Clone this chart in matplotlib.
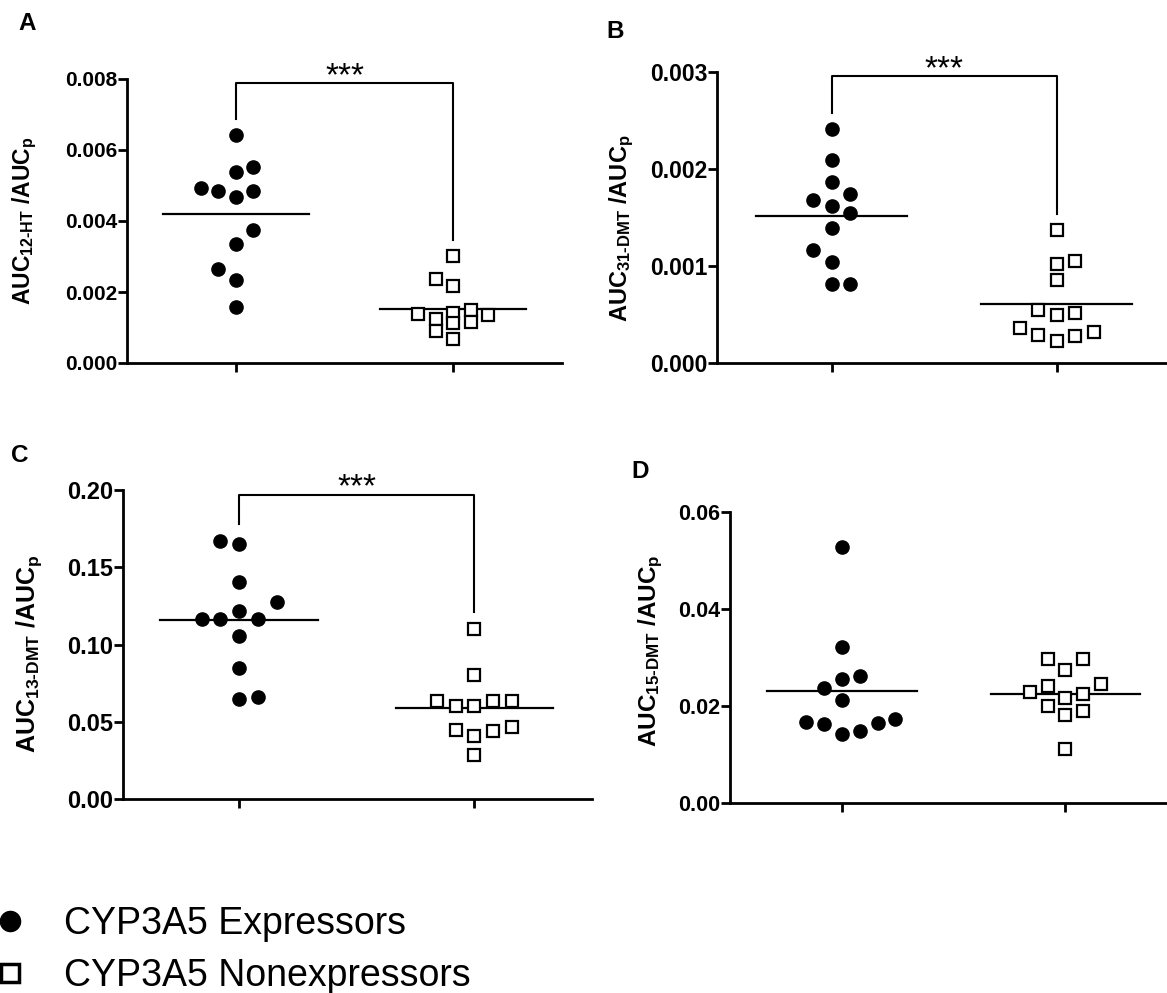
import numpy as np
import matplotlib
matplotlib.use('Agg')
import matplotlib.pyplot as plt
from matplotlib.lines import Line2D

plt.rcParams['font.family'] = ['Liberation Sans', 'DejaVu Sans']
plt.rcParams['mathtext.fontset'] = 'custom'
plt.rcParams['mathtext.rm'] = 'Liberation Sans'
plt.rcParams['mathtext.bf'] = 'Liberation Sans:bold'
plt.rcParams['mathtext.it'] = 'Liberation Sans:italic'

groups = ['CYP3A5 Expressors', 'CYP3A5 Nonexpressors']

# A: AUC 12-HT / AUC parent
a_expr = [0.00642, 0.00551, 0.00538, 0.00492, 0.00485, 0.00485,
          0.00468, 0.00375, 0.00334, 0.00266, 0.00233, 0.00157]
a_nonexpr = [0.00302, 0.00236, 0.00218, 0.00149, 0.00142, 0.00138,
             0.00135, 0.00125, 0.00116, 0.00112, 0.00091, 0.00068]
# B: AUC 31-DMT / AUC parent
b_expr = [0.002416, 0.002097, 0.001863, 0.001746, 0.001684, 0.001622,
          0.001546, 0.001389, 0.001162, 0.001041, 0.000818, 0.000818]
b_nonexpr = [0.001375, 0.001052, 0.001025, 0.000860, 0.000550, 0.000515,
             0.000492, 0.000365, 0.000324, 0.000293, 0.000282, 0.000224]
# C: AUC 13-DMT / AUC parent
c_expr = [0.1672, 0.1651, 0.1405, 0.1276, 0.1218, 0.1164,
          0.1164, 0.1164, 0.1056, 0.0847, 0.0663, 0.0647]
c_nonexpr = [0.1099, 0.0804, 0.0636, 0.0636, 0.0636, 0.0603,
             0.0603, 0.0466, 0.0444, 0.0437, 0.0411, 0.0286]
# D: AUC 15-DMT / AUC parent
d_expr = [0.0527, 0.0321, 0.0262, 0.0256, 0.0238, 0.0212,
          0.0173, 0.0167, 0.0165, 0.0163, 0.0149, 0.0142]
d_nonexpr = [0.0297, 0.0297, 0.0274, 0.0245, 0.0241, 0.0229,
             0.0225, 0.0216, 0.0200, 0.0190, 0.0181, 0.0112]

letters = ['A', 'B', 'C', 'D']
metabolites = ['12\u2010HT', '31\u2010DMT', '13\u2010DMT', '15\u2010DMT']
yticks = [[0, 0.002, 0.004, 0.006, 0.008],
          [0, 0.001, 0.002, 0.003],
          [0, 0.05, 0.10, 0.15, 0.20],
          [0, 0.02, 0.04, 0.06]]
ytick_labels = [['0.000', '0.002', '0.004', '0.006', '0.008'],
                ['0.000', '0.001', '0.002', '0.003'],
                ['0.00', '0.05', '0.10', '0.15', '0.20'],
                ['0.00', '0.02', '0.04', '0.06']]
stars = ['***', '***', '***', '']

# layout (figure pixels 1167 x 993)
W, H = 1167, 993
axes_px = [(127, 79, 562, 363), (717, 72, 1167, 363),
           (123, 490, 592, 799), (730, 512, 1167, 803)]
xlims = [(0.5, 2.5), (0.491, 2.49), (0.506, 2.5), (0.498, 2.455)]
tick_fs = [15, 16.5, 17, 15.5]
label_fs = [16.5, 17, 18, 17.5]
label_x = [-0.202, -0.181, -0.168, -0.149]
label_y = [0.5, 0.463, 0.471, 0.524]
letter_pos = [(27, 23), (615, 31), (20, 456), (640, 472)]
col_px = [17.5, 18.5, 18.7, 17.8]
gap_px = [(16, 10), (16, 16), (18, 16), (16, 16)]
first_side = [-1, 1, 1, 1]


def swarm(ax, vals, center, side, col, gap):
    # column scatter: place lowest values first, bump sideways when too close
    vals = np.asarray(vals)
    pts = np.column_stack([np.full(len(vals), center), vals])
    ypix = ax.transData.transform(pts)[:, 1]
    cols = {}
    xs = np.zeros(len(vals))
    for i in np.argsort(vals, kind='stable'):
        cands = [0]
        for k in range(1, 8):
            cands += [side * k, -side * k]
        for c in cands:
            if all(abs(ypix[i] - ypix[j]) >= gap for j in cols.get(c, [])):
                break
        cols.setdefault(c, []).append(i)
        if c != 0:
            side = -side
        xs[i] = c
    ppu = ax.transData.transform([(1, 0)])[0][0] - ax.transData.transform([(0, 0)])[0][0]
    return center + xs * col / ppu


fig = plt.figure(figsize=(W / 100, H / 100), dpi=100)

data = [(a_expr, a_nonexpr), (b_expr, b_nonexpr), (c_expr, c_nonexpr), (d_expr, d_nonexpr)]

for p in range(4):
    l, t, r, b = axes_px[p]
    ax = fig.add_axes([l / W, 1 - b / H, (r - l) / W, (b - t) / H])
    ymax = yticks[p][-1]
    ax.set_xlim(*xlims[p])
    ax.set_ylim(0, ymax)
    for s in ['top', 'right']:
        ax.spines[s].set_visible(False)
    for s in ['left', 'bottom']:
        ax.spines[s].set_linewidth(2)
    ax.set_xticks([1, 2])
    ax.set_xticklabels([])
    ax.set_yticks(yticks[p])
    ax.set_yticklabels(ytick_labels[p], fontweight='bold', fontsize=tick_fs[p])
    ax.tick_params(axis='both', direction='out', length=6.5, width=2, pad=0.5)

    expr, nonexpr = data[p]
    xe = swarm(ax, expr, 1, first_side[p], col_px[p], gap_px[p][0])
    xn = swarm(ax, nonexpr, 2, first_side[p], col_px[p], gap_px[p][1])
    ax.plot(xe, expr, 'o', ms=9.5, color='black', clip_on=False, zorder=3)
    ax.plot(xn, nonexpr, 's', ms=8.3, mfc='white', mec='black', mew=1.6,
            clip_on=False, zorder=3)
    # group means
    for cx, v in [(1, expr), (2, nonexpr)]:
        m = np.mean(v)
        ax.plot([cx - 0.335, cx + 0.335], [m, m], color='black', lw=1.6, zorder=2)

    if stars[p]:
        top = 0.985 * ymax
        yl = max(expr) + 0.055 * ymax
        yr = max(nonexpr) + 0.055 * ymax
        ax.plot([1, 1, 2, 2], [yl, top, top, yr], color='black', lw=1.5, clip_on=False)
        ax.annotate(stars[p], (1.5, top), xytext=(0, -1.5), textcoords='offset points',
                    ha='center', va='baseline', fontsize=24)

    ax.set_ylabel(r'$\mathbf{AUC_{%s}\ /AUC_{p}}$' % metabolites[p], fontsize=label_fs[p])
    ax.yaxis.set_label_coords(label_x[p], label_y[p])

    lx, ly = letter_pos[p]
    fig.text(lx / W, 1 - ly / H, letters[p], fontsize=17.5, fontweight='bold',
             ha='center', va='center')

handles = [Line2D([], [], ls='', marker='o', ms=14.5, color='black'),
           Line2D([], [], ls='', marker='s', ms=12.5, mfc='white', mec='black', mew=2.5)]
fig.legend(handles, groups, loc='lower left', bbox_to_anchor=(0.0, -0.001),
           frameon=False, fontsize=27, handlelength=0.55, handletextpad=1.15,
           labelspacing=0.42, borderpad=0, borderaxespad=0)

fig.savefig('out.png', dpi=100)
